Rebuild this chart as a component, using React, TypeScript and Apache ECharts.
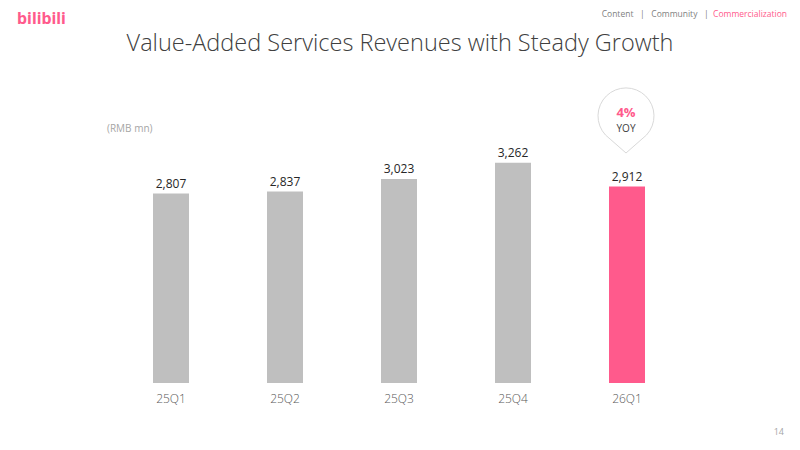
import React, { useEffect, useRef } from "react";
import * as echarts from "echarts";

const categories = ["25Q1", "25Q2", "25Q3", "25Q4", "26Q1"];
const revenues = [2807, 2837, 3023, 3262, 2912];
const highlightIndex = 4;
const yoyText = "4%";
const navItems = ["Content", "Community", "Commercialization"];

const GRAY = "#bfbfbf";
const PINK = "#ff5a8c";
const FONT = "'Open Sans', 'Noto Sans', sans-serif";

echarts.graphic.registerShape(
  "pin",
  echarts.graphic.extendPath(
    "M -20.5 19 A 28 28 0 1 1 20.5 19 L 0 37 Z",
    {}
  )
);

export default function App() {
  const ref = useRef<HTMLDivElement>(null);
  useEffect(() => {
    if (!ref.current) return;
    const chart = echarts.init(ref.current, undefined, { renderer: "svg" });
    const pinX = 626;
    const pinY = 116;
    chart.setOption({
      animation: false,
      backgroundColor: "#ffffff",
      title: {
        text: "Value-Added Services Revenues with Steady Growth",
        left: "center",
        top: 25,
        textStyle: {
          fontFamily: FONT,
          fontSize: 23.5,
          fontWeight: 300,
          color: "#404040",
        },
      },
      grid: { left: 114, right: 116, top: 113, bottom: 67 },
      xAxis: {
        type: "category",
        data: categories,
        axisLine: { show: false },
        axisTick: { show: false },
        axisLabel: {
          margin: 9,
          fontFamily: FONT,
          fontSize: 12,
          fontWeight: 300,
          color: "#595959",
        },
      },
      yAxis: {
        type: "value",
        min: 0,
        max: 4000,
        show: false,
        splitLine: { show: false },
      },
      series: [
        {
          type: "bar",
          barWidth: 36,
          data: revenues.map((v, i) => ({
            value: v,
            itemStyle: { color: i === highlightIndex ? PINK : GRAY },
          })),
          label: {
            show: true,
            position: "top",
            distance: 4,
            fontFamily: FONT,
            fontSize: 12,
            color: "#262626",
            formatter: (p: any) => Number(p.value).toLocaleString("en-US"),
          },
        },
      ],
      graphic: [
        {
          type: "text",
          left: 17,
          top: 10,
          style: {
            text: "bilibili",
            fontFamily: "'Noto Sans', sans-serif",
            fontSize: 16,
            fontWeight: "bold",
            fill: PINK,
          },
        },
        {
          type: "text",
          right: 13,
          top: 9,
          style: {
            rich: {
              g: { fontFamily: FONT, fontSize: 8.5, fill: "#7f7f7f" },
              s: { fontFamily: FONT, fontSize: 8.5, fill: "#7f7f7f" },
              p: { fontFamily: FONT, fontSize: 8.5, fill: PINK },
            },
            text:
              "{g|" + navItems[0] + "}{s|   |   }{g|" + navItems[1] + "}{s|   |  }{p|" + navItems[2] + "}",
          } as any,
        },
        {
          type: "text",
          left: 107,
          top: 123,
          style: {
            text: "(RMB mn)",
            fontFamily: FONT,
            fontSize: 10,
            fill: "#a6a6a6",
          },
        },
        {
          type: "pin",
          x: pinX,
          y: pinY,
          style: { fill: "#ffffff", stroke: "#d9d9d9", lineWidth: 1 },
        } as any,
        {
          type: "text",
          x: pinX,
          y: 112,
          style: {
            text: yoyText,
            fontFamily: FONT,
            fontSize: 13,
            fontWeight: "bold",
            fill: PINK,
            align: "center",
            verticalAlign: "middle",
          },
        },
        {
          type: "text",
          x: pinX,
          y: 128,
          style: {
            text: "YOY",
            fontFamily: FONT,
            fontSize: 10,
            fill: "#404040",
            align: "center",
            verticalAlign: "middle",
          },
        },
        {
          type: "text",
          right: 16,
          top: 427,
          style: {
            text: "14",
            fontFamily: FONT,
            fontSize: 9,
            fill: "#a6a6a6",
          },
        },
      ],
    });
    return () => chart.dispose();
  }, []);
  return <div ref={ref} style={{ width: 800, height: 450, position: "absolute", left: 0, top: 0 }} />;
}
